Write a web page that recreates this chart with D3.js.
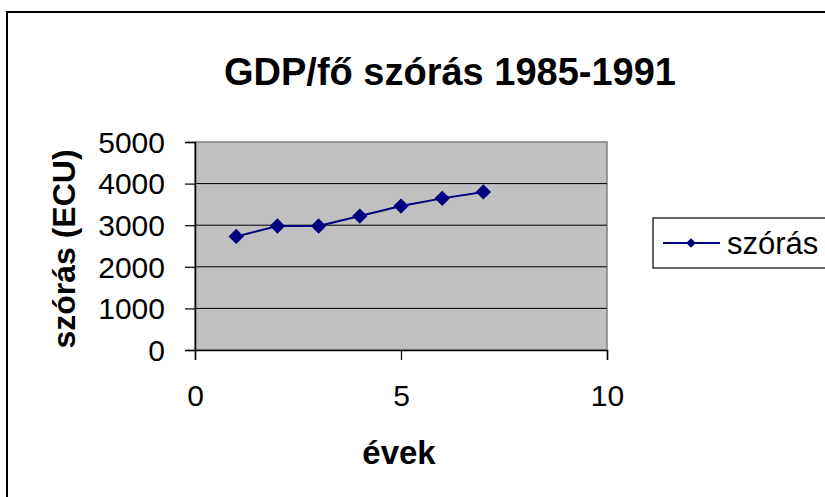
<!DOCTYPE html>
<html>
<head>
<meta charset="utf-8">
<script src="https://cdn.jsdelivr.net/npm/d3@7"></script>
<style>
  body { margin: 0; background: #fff; }
  text { font-family: "Liberation Sans", Arial, sans-serif; }
</style>
</head>
<body>
<svg id="chart"></svg>
<script>
var width = 825, height = 497

// data
var years = [1, 2, 3, 4, 5, 6, 7]
var szoras = [2730, 2980, 2980, 3220, 3460, 3645, 3800]
var yTicks = [0, 1000, 2000, 3000, 4000, 5000]
var xTicks = [0, 5, 10]

var plot = {left: 195, top: 142, right: 607, bottom: 350}

var svg = d3.select("#chart").attr("width", width).attr("height", height)

// outer frame
svg.append("rect")
    .attr("x", 7).attr("y", 12)
    .attr("width", 830).attr("height", 500)
    .attr("fill", "#fff").attr("stroke", "#000").attr("stroke-width", 2)

var x = d3.scaleLinear().domain([0, 10]).range([plot.left, plot.right])
var y = d3.scaleLinear().domain([0, 5000]).range([plot.bottom, plot.top])

// plot area
svg.append("rect")
    .attr("x", plot.left).attr("y", plot.top)
    .attr("width", plot.right - plot.left).attr("height", plot.bottom - plot.top)
    .attr("fill", "#c0c0c0").attr("stroke", "#808080").attr("stroke-width", 1.5)

// gridlines
svg.selectAll(".grid").data(yTicks.slice(1, -1)).enter().append("line")
    .attr("x1", plot.left).attr("x2", plot.right)
    .attr("y1", d => y(d)).attr("y2", d => y(d))
    .attr("stroke", "#000").attr("stroke-width", 1)

// axes
var yAxis = svg.append("g").attr("transform", "translate(" + plot.left + ",0)")
    .call(d3.axisLeft(y).tickValues(yTicks).tickFormat(d3.format("d")).tickSize(10).tickPadding(20))
var xAxis = svg.append("g").attr("transform", "translate(0," + plot.bottom + ")")
    .call(d3.axisBottom(x).tickValues(xTicks).tickSize(10).tickPadding(25))

;[yAxis, xAxis].forEach(function(a) {
    a.select(".domain").attr("stroke", "#000").attr("stroke-width", 1.5)
    a.selectAll(".tick line").attr("stroke", "#000").attr("stroke-width", 1.2)
    a.selectAll("text").attr("fill", "#000").attr("font-size", "30px")
        .attr("font-family", "Liberation Sans, Arial, sans-serif")
})
yAxis.selectAll("text").attr("dy", "0.34em")

// series
var line = d3.line().x((d, i) => x(years[i])).y(d => y(d))
svg.append("path").datum(szoras)
    .attr("d", line)
    .attr("fill", "none").attr("stroke", "#000080").attr("stroke-width", 2)

var diamond = d3.symbol().type(d3.symbolDiamond2).size(150)
svg.selectAll(".pt").data(szoras).enter().append("path")
    .attr("d", diamond)
    .attr("transform", (d, i) => "translate(" + x(years[i]) + "," + y(d) + ")")
    .attr("fill", "#000080")

// title and axis titles
svg.append("text").attr("x", 450).attr("y", 85)
    .attr("text-anchor", "middle").attr("font-size", "38px").attr("font-weight", "bold")
    .text("GDP/fő szórás 1985-1991")
svg.append("text").attr("x", 399).attr("y", 464)
    .attr("text-anchor", "middle").attr("font-size", "33px").attr("font-weight", "bold")
    .text("évek")
svg.append("text")
    .attr("transform", "translate(75,249) rotate(-90)")
    .attr("text-anchor", "middle").attr("font-size", "32px").attr("font-weight", "bold")
    .text("szórás (ECU)")

// legend
var lg = svg.append("g")
lg.append("rect").attr("x", 653).attr("y", 218).attr("width", 180).attr("height", 50)
    .attr("fill", "#fff").attr("stroke", "#000").attr("stroke-width", 1.2)
lg.append("line").attr("x1", 663).attr("x2", 720).attr("y1", 243).attr("y2", 243)
    .attr("stroke", "#000080").attr("stroke-width", 2)
lg.append("path").attr("d", d3.symbol().type(d3.symbolDiamond2).size(60))
    .attr("transform", "translate(691,243)").attr("fill", "#000080")
lg.append("text").attr("x", 727).attr("y", 254).attr("font-size", "31px")
    .text("szórás")
</script>
</body>
</html>
